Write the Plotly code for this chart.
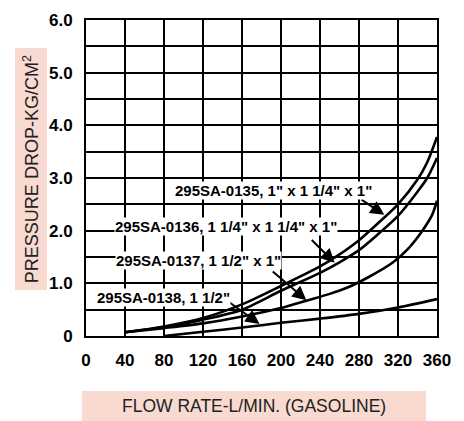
import plotly.graph_objects as go

# Data
x_0135 = [40, 80, 120, 160, 200, 240, 260, 280, 300, 320, 340, 350, 360]
y_0135 = [0.07, 0.18, 0.34, 0.60, 0.95, 1.32, 1.55, 1.82, 2.15, 2.50, 2.97, 3.30, 3.78]

x_0136 = [40, 80, 120, 160, 200, 240, 260, 280, 300, 320, 340, 350, 360]
y_0136 = [0.07, 0.17, 0.31, 0.50, 0.86, 1.20, 1.40, 1.63, 1.94, 2.28, 2.74, 3.00, 3.38]

x_0137 = [40, 80, 120, 160, 200, 226, 250, 267, 290, 315, 330, 345, 355, 360]
y_0137 = [0.07, 0.15, 0.24, 0.37, 0.53, 0.67, 0.80, 0.91, 1.12, 1.40, 1.65, 2.00, 2.30, 2.57]

x_0138 = [80, 120, 160, 200, 240, 280, 320, 360]
y_0138 = [0.00, 0.08, 0.16, 0.25, 0.33, 0.42, 0.54, 0.70]

x_ticks = [0, 40, 80, 120, 160, 200, 240, 280, 320, 360]
x_tick_labels = ["0", "40", "80", "120", "160", "200", "240", "280", "320", "360"]
y_grid = [0, 0.5, 1, 1.5, 2, 2.5, 3, 3.5, 4, 4.5, 5, 5.5, 6]
y_tick_labels = ["0", "", "1.0", "", "2.0", "", "3.0", "", "4.0", "", "5.0", "", "6.0"]

labels = [
    "295SA-0135, 1\" x 1 1/4\" x 1\"",
    "295SA-0136, 1 1/4\" x 1 1/4\" x 1\"",
    "295SA-0137, 1 1/2\" x 1\"",
    "295SA-0138, 1 1/2\"",
]
# label centres (data coords) and arrows (tail -> head)
label_pos = [(192, 2.77), (144, 2.07), (115, 1.44), (79, 0.74)]
arrow_tail = [(281, 2.61), (230, 1.85), (190, 1.25), (144, 0.68)]
arrow_head = [(306, 2.30), (255, 1.39), (226, 0.68), (178, 0.23)]

FONT = "Liberation Sans, Arial, sans-serif"
PINK = "#f8dad0"

fig = go.Figure()
for xs, ys in [(x_0135, y_0135), (x_0136, y_0136), (x_0137, y_0137), (x_0138, y_0138)]:
    fig.add_trace(go.Scatter(x=xs, y=ys, mode="lines",
                             line=dict(color="black", width=2.6, shape="spline", smoothing=0.8),
                             showlegend=False, hoverinfo="skip"))

annotations = []
for (ax, ay), (hx, hy) in zip(arrow_tail, arrow_head):
    annotations.append(dict(x=hx, y=hy, ax=ax, ay=ay, xref="x", yref="y", axref="x", ayref="y",
                            text="", showarrow=True, arrowhead=2, arrowsize=1.4, arrowwidth=2,
                            arrowcolor="black"))
for txt, (lx, ly) in zip(labels, label_pos):
    annotations.append(dict(x=lx, y=ly, xref="x", yref="y", text=txt, showarrow=False,
                            xanchor="center", yanchor="middle",
                            font=dict(family=FONT, size=15, color="black", weight="bold"),
                            bgcolor="white", borderpad=0))

annotations.append(dict(x=-0.1567, y=0.528, xref="paper", yref="paper",
                        xanchor="center", yanchor="middle",
                        text="PRESSURE DROP-KG/CM<sup>2</sup>", textangle=-90, showarrow=False,
                        font=dict(family=FONT, size=18, color="#222")))
annotations.append(dict(x=0.4786, y=-0.2215, xref="paper", yref="paper",
                        xanchor="center", yanchor="middle",
                        text="FLOW RATE-L/MIN. (GASOLINE)", showarrow=False,
                        font=dict(family=FONT, size=17.5, color="#222")))

shapes = [
    dict(type="rect", xref="paper", yref="paper", x0=-0.2023, x1=-0.1111, y0=0.1456, y1=0.911,
         fillcolor=PINK, line=dict(width=0), layer="below"),
    dict(type="rect", xref="paper", yref="paper", x0=-0.0114, x1=0.9687, y0=-0.269, y1=-0.174,
         fillcolor=PINK, line=dict(width=0), layer="below"),
]

fig.update_layout(
    width=464, height=421, autosize=False,
    margin=dict(l=86, r=27, t=20, b=85),
    paper_bgcolor="white", plot_bgcolor="white",
    annotations=annotations, shapes=shapes,
    xaxis=dict(range=[0, 360], tickvals=x_ticks, ticktext=x_tick_labels, tickangle=0,
               showgrid=True, gridcolor="black", gridwidth=1.5, zeroline=False,
               showline=True, linecolor="black", linewidth=2, mirror=True,
               ticks="", ticklabelstandoff=8,
               tickfont=dict(family=FONT, size=17, color="black", weight="bold")),
    yaxis=dict(range=[0, 6], tickvals=y_grid, ticktext=y_tick_labels,
               showgrid=True, gridcolor="black", gridwidth=1.5, zeroline=False,
               showline=True, linecolor="black", linewidth=2, mirror=True,
               ticks="", ticklabelstandoff=8,
               tickfont=dict(family=FONT, size=17, color="black", weight="bold")),
)

fig.write_html("out.html", config={"displayModeBar": False},
               post_script="document.body.style.margin='0';")
